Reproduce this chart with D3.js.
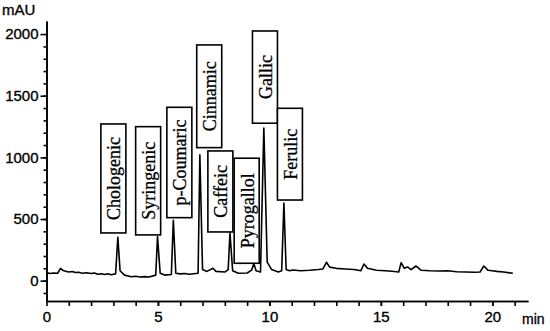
<!DOCTYPE html>
<html lang="en">
<head>
<meta charset="UTF-8">
<title>Chromatogram</title>
<script src="https://d3js.org/d3.v7.min.js"></script>
<style>
  body { margin: 0; background: #fff; }
  svg { display: block; }
  .axis text { font-family: "Liberation Sans", Arial, sans-serif; font-size: 15px; fill: #000; stroke: #000; stroke-width: 0.35px; }
  .lbl { font-family: "Liberation Serif", "Times New Roman", serif; font-size: 18px; fill: #000; stroke: #000; stroke-width: 0.3px; }
</style>
</head>
<body>
<div id="chart"></div>
<script>

// retention time (min) and absorbance (mAU)
const times = [0.0, 0.15, 0.3, 0.5, 0.63, 0.75, 0.9, 1.0, 1.15, 1.3, 1.45, 1.6, 1.8, 2.0, 2.15, 2.3,
  2.45, 2.6, 2.75, 2.9, 3.1, 3.2, 3.3, 3.5,
  3.8, 4.0, 4.2, 4.4, 4.6, 4.9, 4.98, 5.1, 5.3, 5.6, 5.69, 5.8, 6.0, 6.2, 6.4, 6.8, 6.88, 7.0, 7.2, 7.47, 7.6,
  8.0, 8.15, 8.23, 8.35, 8.6, 9.0, 9.2, 9.3, 9.4, 9.6, 9.75, 9.9, 10.1, 10.4, 10.55, 10.65, 10.75,
  10.9, 11.05, 11.4, 11.8, 12.2, 12.4, 12.56, 12.7, 13.0, 13.4, 13.8, 14.1, 14.24, 14.4, 14.8,
  15.2, 15.5, 15.8, 15.91, 16.05, 16.2, 16.35, 16.57, 16.8, 17.2, 17.6, 18.0, 18.4, 18.8, 19.2, 19.45,
  19.62, 19.8, 20.0, 20.2, 20.5, 20.92];
const mau = [65, 58, 62, 60, 100, 82, 75, 70, 74, 66, 68, 60, 64, 58, 62, 52,
  56, 50, 56, 48, 55, 352, 80, 45,
  32, 36, 30, 33, 30, 45, 357, 60, 45, 50, 490, 60, 55, 58, 52, 60, 1020, 90, 75, 100, 75,
  70, 90, 387, 80, 60, 62, 85, 140, 80, 70, 1238, 150, 90, 70, 80, 630, 90,
  80, 87, 80, 84, 90, 95, 149, 110, 100, 95, 90, 80, 135, 100, 85,
  80, 76, 70, 146, 100, 111, 90, 119, 85, 80, 78, 80, 72, 70, 68, 70,
  119, 85, 80, 75, 70, 60];

// peak label boxes: centre time, top and bottom in mAU
const peakNames = ["Chologenic", "Syringenic", "p-Coumaric", "Cinnamic", "Caffeic", "Pyrogallol", "Gallic", "Ferulic"];
const boxTime = [3.0, 4.56, 5.96, 7.30, 7.80, 8.98, 9.80, 10.92];
const boxTop = [1271, 1249, 1406, 1912, 1052, 993, 2025, 1398];
const boxBottom = [387, 371, 511, 1079, 395, 141, 1277, 654];

const yTicks = [0, 500, 1000, 1500, 2000];
const xTicks = [0, 5, 10, 15, 20];

const svg = d3.select("#chart")
  .append("svg")
  .attr("width", 550)
  .attr("height", 331);

const x_scale = d3.scaleLinear()
  .domain([0, 21.6])
  .range([46.5, 528]);

const y_scale = d3.scaleLinear()
  .domain([-165, 2106])
  .range([301, 21]);

// y axis
svg.append("g")
  .attr("class", "axis")
  .attr("transform", "translate(46.5,0)")
  .call(d3.axisLeft(y_scale).tickValues(yTicks).tickFormat(d3.format("d")).tickSize(6).tickPadding(2).tickSizeOuter(0));

svg.append("g")
  .attr("class", "axis")
  .attr("transform", "translate(46.5,0)")
  .call(d3.axisLeft(y_scale).tickValues(d3.range(-100, 2000, 100)).tickSize(3).tickFormat("").tickSizeOuter(0));

// x axis
svg.append("g")
  .attr("class", "axis")
  .attr("transform", "translate(0,301)")
  .call(d3.axisBottom(x_scale).tickValues(xTicks).tickFormat(d3.format("d")).tickSize(5).tickPadding(5).tickSizeOuter(0));

svg.append("g")
  .attr("class", "axis")
  .attr("transform", "translate(0,301)")
  .call(d3.axisBottom(x_scale).tickValues(d3.range(1, 22, 1)).tickSize(5).tickFormat("").tickSizeOuter(0));

svg.selectAll(".axis path, .axis line")
  .attr("stroke", "#000")
  .attr("stroke-width", 1.6);

svg.append("text")
  .attr("x", 2)
  .attr("y", 15)
  .style("font-family", "Liberation Sans, Arial, sans-serif")
  .style("font-size", "15px")
  .style("stroke", "#000")
  .style("stroke-width", "0.35px")
  .text("mAU");

svg.append("text")
  .attr("x", 522)
  .attr("y", 324)
  .style("font-family", "Liberation Sans, Arial, sans-serif")
  .style("font-size", "14px")
  .style("stroke", "#000")
  .style("stroke-width", "0.3px")
  .text("min");

// trace
const pts = times.map((t, i) => [t, mau[i]]);

svg.append("path")
  .datum(pts)
  .attr("fill", "none")
  .attr("stroke", "#000")
  .attr("stroke-width", 1.6)
  .attr("stroke-linejoin", "round")
  .attr("d", d3.line()
    .x(d => x_scale(d[0]))
    .y(d => y_scale(d[1])));

// label boxes
const boxes = svg.append("g")
  .selectAll("g")
  .data(peakNames)
  .enter()
  .append("g");

const boxW = 25;

boxes.append("rect")
  .attr("x", (d, i) => x_scale(boxTime[i]) - boxW / 2)
  .attr("y", (d, i) => y_scale(boxTop[i]))
  .attr("width", boxW)
  .attr("height", (d, i) => y_scale(boxBottom[i]) - y_scale(boxTop[i]))
  .attr("fill", "#fff")
  .attr("stroke", "#000")
  .attr("stroke-width", 1.6);

boxes.append("text")
  .attr("class", "lbl")
  .attr("text-anchor", "middle")
  .attr("dominant-baseline", "central")
  .attr("transform", (d, i) => {
    const cx = x_scale(boxTime[i]) + 1;
    const cy = (y_scale(boxTop[i]) + y_scale(boxBottom[i])) / 2;
    return `translate(${cx},${cy}) rotate(-90)`;
  })
  .text(d => d);

</script>
</body>
</html>
